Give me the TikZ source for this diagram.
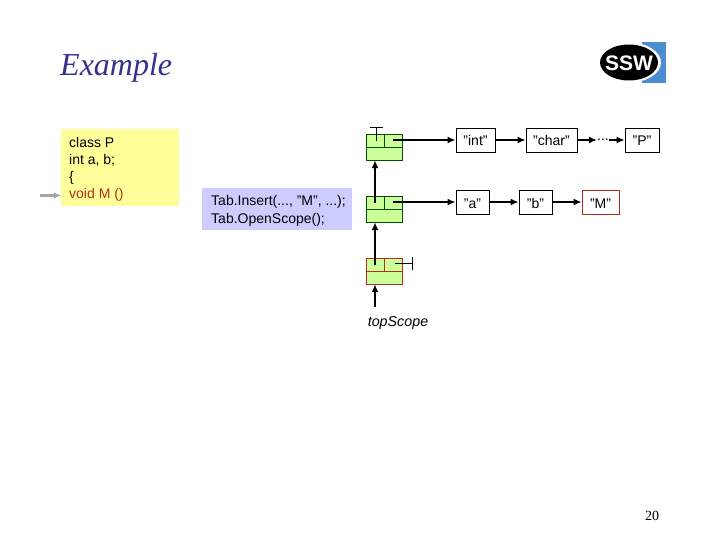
\documentclass[tikz,border=0pt]{standalone}
\usepackage{fontspec}
\setmainfont[Ligatures=ResetAll]{Liberation Sans}
\newfontfamily\titlefont{Liberation Serif}
\usetikzlibrary{arrows.meta}
\definecolor{darkblue}{rgb}{0.2, 0.2, 0.55}
\definecolor{darkred}{rgb}{0.7, 0.18, 0.1}
\definecolor{cellgreen}{rgb}{0.8, 1.0, 0.6}
\definecolor{noteyellow}{rgb}{1.0, 1.0, 0.6}
\definecolor{noteblue}{rgb}{0.8, 0.8, 1.0}
\definecolor{logoblue}{rgb}{0.3, 0.55, 0.82}
\tikzset{
  label/.style={font=\fontsize{14}{17}\selectfont, inner sep=0pt},
  namebox/.style={draw=black, fill=white, thick, minimum height=24pt, inner sep=0pt, text height=12pt, text depth=0pt, font=\fontsize{14}{17}\selectfont},
  cell/.style={draw=black!70!green, fill=cellgreen, minimum width=36pt, minimum height=26pt, inner sep=0pt},
  link/.style={-{Latex[length=8pt,width=7pt]}, line width=2pt},
  stub/.style={line width=0.8pt}
}
\begin{document}
\begin{tikzpicture}[x=1pt, y=-1pt]
    \useasboundingbox (0,0) rectangle (720,540);

    %% Title and page number
    \node[anchor=west, inner sep=0pt, text=darkblue] (title) at (60,68) {\titlefont\fontsize{32}{36}\selectfont\itshape Example};
    \node[inner sep=0pt, font=\titlefont\fontsize{14}{17}\selectfont] (page) at (652,516) {20};

    %% Logo
    \fill[logoblue] (642,42) rectangle (666,83);
    \fill[white] (629,62.5) ellipse (32 and 20);
    \fill[black] (629,62.5) ellipse (29 and 18);
    \node[text=white, inner sep=0pt] (logo) at (629,63) {\fontsize{21}{21}\selectfont\bfseries SSW};

    %% Source text
    \node[fill=noteyellow, minimum width=118pt, minimum height=77pt] (src) at (120,167.5) {};
    \node[label, anchor=base west] (src1) at (69,148) {class P};
    \node[label, anchor=base west] (src2) at (69,165) {int a, b;};
    \node[label, anchor=base west] (src3) at (69,182) {\{};
    \node[label, anchor=base west, text=darkred] (src4) at (69,199) {void M ()};
    \coordinate (srcin) at (40,195.5);
    \draw[-{Latex[length=7pt,width=7pt]}, line width=3pt, color=black!35] (srcin) -- (src.west |- srcin);

    %% Calls
    \node[fill=noteblue, minimum width=150pt, minimum height=42pt] (calls) at (277,209) {};
    \node[label, anchor=base west] (call1) at (211,206) {Tab.Insert(..., "M", ...);};
    \node[label, anchor=base west] (call2) at (211,223) {Tab.OpenScope();};

    %% Scope cells
    \node[cell] (scope1) at (384,147) {};
    \node[cell] (scope2) at (384,209) {};
    \node[cell, draw=darkred] (scope3) at (384,271) {};
    \draw[draw=black!70!green] (scope1.west) -- (scope1.east) (scope1.north) -- (scope1.center);
    \draw[draw=black!70!green] (scope2.west) -- (scope2.east) (scope2.north) -- (scope2.center);
    \draw[draw=darkred] (scope3.west) -- (scope3.east) (scope3.north) -- (scope3.center);

    %% First row
    \node[namebox, minimum width=39pt] (int) at (475.5,140) {"int"};
    \node[namebox, minimum width=51pt] (char) at (551.5,140) {"char"};
    \node[inner sep=0pt, font=\fontsize{14}{14}\selectfont, text height=2pt, text depth=0pt] (dots) at (603,140) {...};
    \node[namebox, minimum width=34pt] (P) at (642,140) {"P"};

    %% Second row
    \node[namebox, minimum width=33pt] (a) at (472.5,202) {"a"};
    \node[namebox, minimum width=33pt] (b) at (535.5,202) {"b"};
    \node[namebox, minimum width=37pt, draw=darkred] (M) at (600.5,202) {"M"};

    %% Pointers out of the cells
    \coordinate (ptr1) at (393,140);
    \coordinate (ptr2) at (393,202);
    \draw[link] (ptr1) -- (int);
    \draw[link] (ptr2) -- (a);
    \draw[link] (int) -- (char);
    \draw[link] (char.east) -- (dots.west);
    \draw[link] (dots.east) -- (P.west);
    \draw[link] (a) -- (b);
    \draw[link] (b) -- (M);

    %% Scope chain
    \coordinate (next2) at (375,203);
    \coordinate (next3) at (375,265);
    \coordinate (top) at (375,307);
    \draw[link] (next2) -- (next2 |- scope1.south);
    \draw[link] (next3) -- (next3 |- scope2.south);
    \draw[link] (top) -- (top |- scope3.south);
    \node[inner sep=0pt, anchor=base, font=\fontsize{14.3}{17}\selectfont\itshape] (topname) at (398,326) {topScope};

    %% List ends
    \coordinate (nil1) at (376,127);
    \coordinate (nil3) at (412,263.5);
    \draw[stub] (376,141) -- (nil1) ++(-6.5,0) -- ++(13,0);
    \draw[stub] (395,263.5) -- (nil3) ++(0,-6.5) -- ++(0,13);
\end{tikzpicture}
\end{document}
